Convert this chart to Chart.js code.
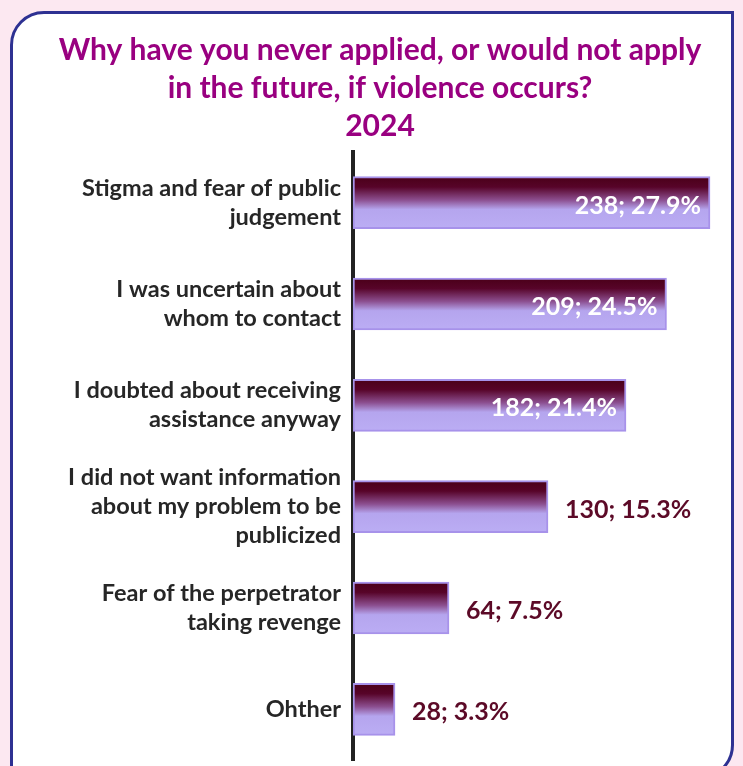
<!DOCTYPE html>
<html>
<head>
<meta charset="utf-8">
<script src="https://cdn.jsdelivr.net/npm/chart.js@4.4.0/dist/chart.umd.min.js"></script>
<style>
  html, body { margin: 0; padding: 0; background: #fce8f1; overflow: hidden; }
  #frame {
    position: absolute; left: 10px; top: 11px; width: 718px; height: 762px;
    background: #fff; border: 3px solid #2e3192;
    border-radius: 34px 0 34px 0;
  }
  #wrap { position: absolute; left: 0; top: 0; width: 743px; height: 766px; }
</style>
</head>
<body>
<div id="frame"></div>
<div id="wrap"><canvas id="reasonsChart" width="743" height="766"></canvas></div>
<script>
const categories = [
  ["Stigma and fear of public", "judgement"],
  ["I was uncertain about", "whom to contact"],
  ["I doubted about receiving", "assistance anyway"],
  ["I did not want information", "about my problem to be", "publicized"],
  ["Fear of the perpetrator", "taking revenge"],
  ["Ohther"]
];
const counts = [238, 209, 182, 130, 64, 28];
const shares = [27.9, 24.5, 21.4, 15.3, 7.5, 3.3];
const titleLines = [
  "Why have you never applied, or would not apply",
  "in the future, if violence occurs?",
  "2024"
];

const FONT = "Lato, 'Open Sans', sans-serif";
const BAR_H = 52;

// vertical gradient per bar, dark maroon on top fading to lavender
function barGradient(context) {
  const chart = context.chart;
  const yScale = chart.scales.y;
  const cy = yScale ? yScale.getPixelForValue(context.dataIndex) : NaN;
  if (!isFinite(cy)) return "#8e5292";
  const g = chart.ctx.createLinearGradient(0, cy - BAR_H / 2, 0, cy + BAR_H / 2);
  g.addColorStop(0, "#4a0018");
  g.addColorStop(0.2, "#570429");
  g.addColorStop(0.45, "#8c4f90");
  g.addColorStop(0.63, "#b5a5ee");
  g.addColorStop(1, "#bbadf4");
  return g;
}

// value labels: inside end (white) for long bars, outside end for short ones
const valueLabels = {
  id: "valueLabels",
  afterDatasetsDraw(chart) {
    const ctx = chart.ctx;
    const meta = chart.getDatasetMeta(0);
    ctx.save();
    ctx.font = "bold 25px " + FONT;
    ctx.textBaseline = "middle";
    meta.data.forEach((bar, i) => {
      const text = counts[i] + "; " + shares[i] + "%";
      if (counts[i] > 150) {
        ctx.fillStyle = "#ffffff";
        ctx.textAlign = "right";
        ctx.fillText(text, bar.x - 9, bar.y + 3);
      } else {
        ctx.fillStyle = "#5c0a27";
        ctx.textAlign = "left";
        ctx.fillText(text, bar.x + 17, bar.y + 3);
      }
    });
    ctx.restore();
  }
};

const chart = new Chart(document.getElementById("reasonsChart").getContext("2d"), {
  type: "bar",
  data: {
    labels: categories,
    datasets: [{
      data: counts,
      backgroundColor: barGradient,
      borderColor: "#a792ea",
      borderWidth: 2,
      borderSkipped: false,
      barThickness: BAR_H
    }]
  },
  options: {
    indexAxis: "y",
    responsive: false,
    animation: false,
    layout: { padding: { left: 32, right: 15, top: 0, bottom: 6 } },
    scales: {
      x: { display: false, min: 0, max: 250 },
      y: {
        grid: { display: false, drawTicks: false },
        border: { display: true, color: "#222222", width: 4 },
        ticks: {
          color: "#262626",
          padding: 12,
          font: { family: FONT, size: 23.5, weight: "bold", lineHeight: 1.23 }
        },
        afterFit(scale) {
          scale.width = 321;
          // tall multi-line labels should not shrink the plot area
          scale.paddingTop = 0;
          scale.paddingBottom = 0;
        }
      }
    },
    plugins: {
      legend: { display: false },
      tooltip: { enabled: false },
      title: {
        display: true,
        text: titleLines,
        color: "#990080",
        padding: { top: 31, bottom: 7 },
        font: { family: FONT, size: 30, weight: "bold", lineHeight: 38 / 30 }
      }
    }
  },
  plugins: [valueLabels]
});
// redraw once scales exist so the gradients get real pixel positions
chart.update();
</script>
</body>
</html>
